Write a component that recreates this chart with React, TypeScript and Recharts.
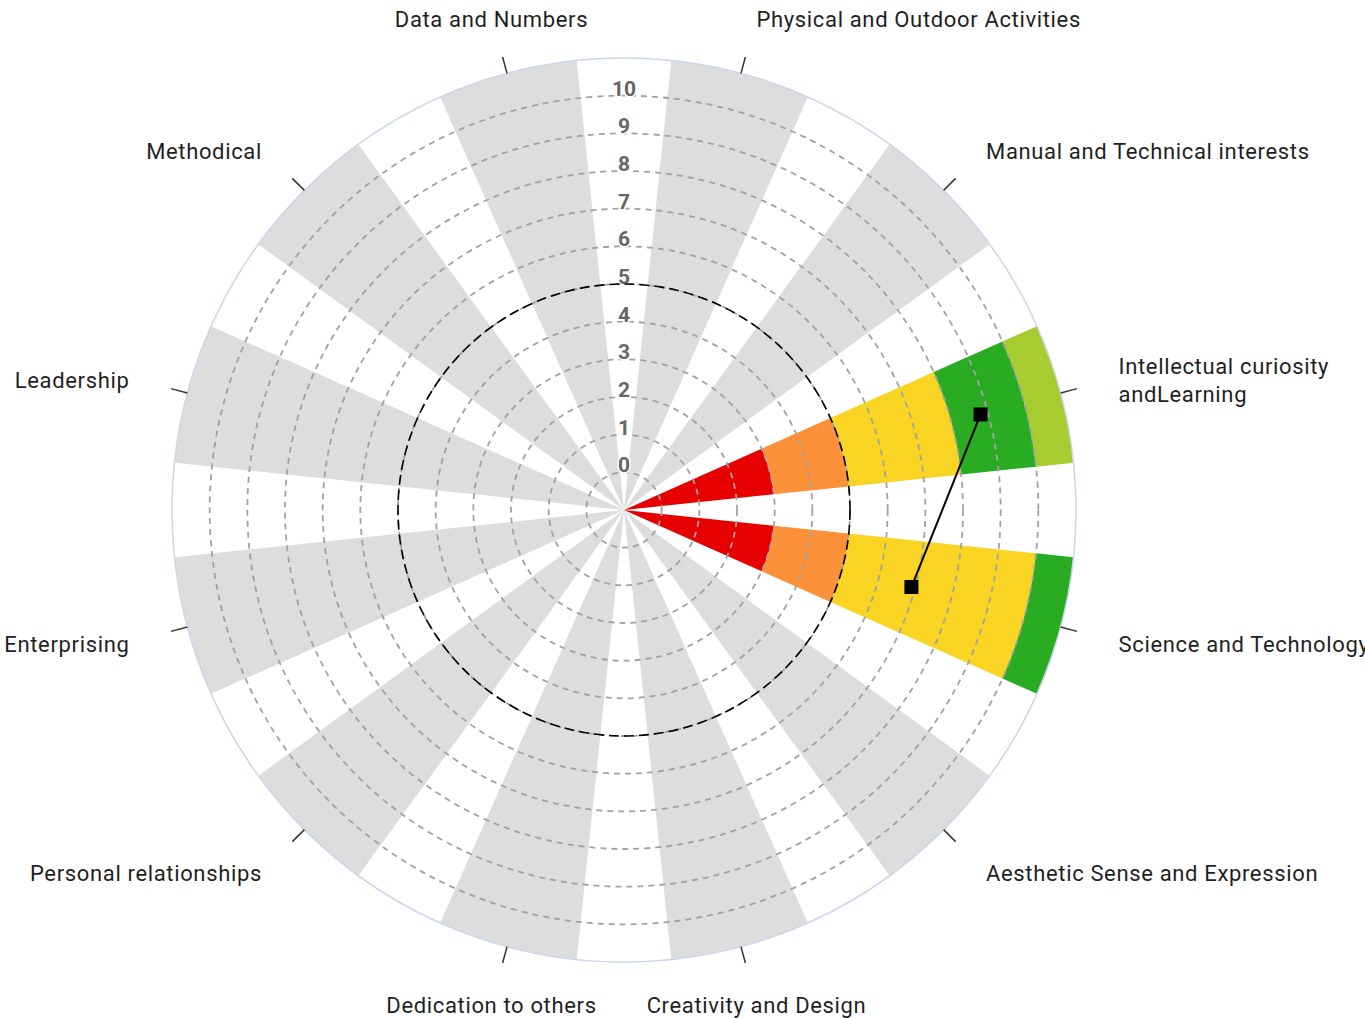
import React from "react";
import {
  RadialBarChart,
  RadialBar,
  RadarChart,
  Radar,
  PolarAngleAxis,
  PolarRadiusAxis,
  PolarGrid,
} from "recharts";

/* ── Data ─────────────────────────────────────────────────────── */

const categories = [
  "Physical and Outdoor Activities",
  "Manual and Technical interests",
  "Intellectual curiosity\nandLearning",
  "Science and Technology",
  "Aesthetic Sense and Expression",
  "Creativity and Design",
  "Dedication to others",
  "Personal relationships",
  "Enterprising",
  "Leadership",
  "Methodical",
  "Data and Numbers",
];

// upper edge of each coloured band (null = no band for that category)
const redTop = [null, null, 3, 3, null, null, null, null, null, null, null, null];
const orangeTop = [null, null, 5, 5, null, null, null, null, null, null, null, null];
const yellowTop = [null, null, 8, 10, null, null, null, null, null, null, null, null];
const greenTop = [null, null, 10, 11, null, null, null, null, null, null, null, null];
const limeTop = [null, null, 11, null, null, null, null, null, null, null, null, null];

const scores = [null, null, 8.8, 6.9, null, null, null, null, null, null, null, null];

const gridLevels = [0, 1, 2, 3, 4, 5, 6, 7, 8, 9, 10];
const thresholdLevel = [5];

const AXIS_MIN = -1;
const AXIS_MAX = 11;

/* ── Layout / style ───────────────────────────────────────────── */

const W = 1365;
const H = 1018;
const CX = 624;
const CY = 510;
const OUTER = 452;
const FONT = "Roboto, 'Noto Sans', sans-serif";

const bands = [
  { key: "red", tops: redTop, color: "#e60000" },
  { key: "orange", tops: orangeTop, color: "#fc913a" },
  { key: "yellow", tops: yellowTop, color: "#f9d423" },
  { key: "green", tops: greenTop, color: "#29ab22" },
  { key: "lime", tops: limeTop, color: "#a6cc2f" },
];

// shift so the axis minimum sits at the centre (stack base = 0)
const shift = (v: number) => v - AXIS_MIN;
const slot = (i: number) => i + 0.5; // category centre on the angle axis
const slots = categories.map((_, i) => slot(i));
const radiusDomain = [0, shift(AXIS_MAX)];
const angleDomain = [0, categories.length];

const data = categories.map((name, i) => {
  const row: Record<string, string | number | null> = { name, pos: slot(i) };
  let prev = AXIS_MIN;
  bands.forEach((b) => {
    const top = b.tops[i];
    row[b.key] = top == null ? 0 : top - prev;
    if (top != null) prev = top;
  });
  row.rest = AXIS_MAX - prev;
  row.score = scores[i] == null ? null : shift(scores[i] as number);
  return row;
});

const scoreData = data.filter((d) => d.score != null);

/* ── Ticks ────────────────────────────────────────────────────── */

function AngleTick(props: any) {
  const { x, y, payload } = props;
  const a = payload.coordinate;
  const rad = (a * Math.PI) / 180;
  const push = 43;
  const tx = x + push * Math.cos(rad);
  const ty = y - push * Math.sin(rad);
  let t = (90 - a) % 360;
  if (t < 0) t += 360;
  const anchor = t > 0.5 && t < 160 ? "start" : t > 200 && t < 340 ? "end" : "middle";
  const label = categories[Math.floor(payload.value)] ?? "";
  const lines = label.split("\n");
  const lh = 28;
  const y0 = ty + 2 + 2 * Math.cos((t * Math.PI) / 180) - ((lines.length - 1) * lh) / 2;
  return (
    <text
      x={tx}
      y={y0}
      textAnchor={anchor}
      dominantBaseline="central"
      fontSize={22}
      letterSpacing={0.65}
      fill="#1f1f1f"
      fontFamily={FONT}
    >
      {lines.map((l, i) => (
        <tspan key={i} x={tx} y={y0 + i * lh}>
          {l}
        </tspan>
      ))}
    </text>
  );
}

function RadiusTick(props: any) {
  const { x, y, payload } = props;
  return (
    <text
      x={x}
      y={y - 7}
      textAnchor="middle"
      dominantBaseline="central"
      fontSize={21}
      fontWeight="bold"
      fill="#666"
      stroke="#fff"
      strokeWidth={3}
      paintOrder="stroke"
      fontFamily={FONT}
    >
      {payload.value + AXIS_MIN}
    </text>
  );
}

function SquareDot(props: any) {
  const { cx, cy } = props;
  if (!Number.isFinite(cx) || !Number.isFinite(cy)) return <g />;
  return <rect x={cx - 7} y={cy - 7} width={14} height={14} fill="#000" />;
}

/* ── Chart ────────────────────────────────────────────────────── */

const common = {
  width: W,
  height: H,
  cx: CX,
  cy: CY,
  innerRadius: 0,
  outerRadius: OUTER,
  startAngle: 90,
  endAngle: -270,
  margin: { top: 0, right: 0, bottom: 0, left: 0 },
};

export default function App() {
  return (
    <div
      style={{
        position: "absolute",
        left: 0,
        top: 0,
        width: W,
        height: H,
        background: "#fff",
        overflow: "hidden",
      }}
    >
      <div style={{ position: "absolute", left: 0, top: 0 }}>
        <RadialBarChart {...common} data={data} layout="centric" barCategoryGap="20%">
          <PolarAngleAxis
            dataKey="pos"
            type="number"
            domain={angleDomain}
            ticks={slots}
            axisLineType="circle"
            axisLine={{ stroke: "#ccd6eb", strokeWidth: 1.5 }}
            tickLine={{ stroke: "#333", strokeWidth: 1.5 }}
            tickSize={17}
            tick={<AngleTick />}
          />
          <PolarRadiusAxis
            type="number"
            angle={90}
            domain={radiusDomain}
            ticks={gridLevels.map(shift)}
            axisLine={false}
            tick={<RadiusTick />}
          />
          {bands.map((b) => (
            <RadialBar
              key={b.key}
              dataKey={b.key}
              stackId="s"
              fill={b.color}
              isAnimationActive={false}
            />
          ))}
          <RadialBar dataKey="rest" stackId="s" fill="#dddddd" isAnimationActive={false} />
          <PolarGrid
            gridType="circle"
            radialLines={false}
            stroke="#a2a2a2"
            strokeWidth={1.8}
            strokeDasharray="6 5"
            zIndex={350}
          />
        </RadialBarChart>
      </div>
      <div style={{ position: "absolute", left: 0, top: 0, pointerEvents: "none" }}>
        <RadarChart {...common} data={scoreData}>
          <PolarAngleAxis
            dataKey="pos"
            type="number"
            domain={angleDomain}
            tick={false}
            tickLine={false}
            axisLine={false}
          />
          <PolarRadiusAxis
            type="number"
            angle={90}
            domain={radiusDomain}
            ticks={thresholdLevel.map(shift)}
            axisLine={false}
            tick={false}
          />
          <PolarGrid
            gridType="circle"
            radialLines={false}
            stroke="#000"
            strokeWidth={1.6}
            strokeDasharray="10 5"
          />
          <Radar
            dataKey="score"
            stroke="#000"
            strokeWidth={2}
            fill="none"
            fillOpacity={0}
            dot={(p: any) => <SquareDot key={p.index} {...p} />}
            isAnimationActive={false}
          />
        </RadarChart>
      </div>
    </div>
  );
}
